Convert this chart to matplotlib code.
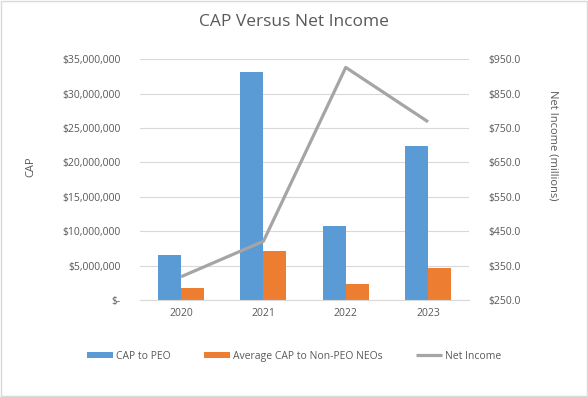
import numpy as np
import matplotlib
matplotlib.use('Agg')
import matplotlib.pyplot as plt
from matplotlib.patches import Rectangle
from matplotlib.ticker import FuncFormatter, MultipleLocator, FixedLocator

plt.rcParams['font.family'] = ['Open Sans', 'DejaVu Sans']

years = ['2020', '2021', '2022', '2023']
cap_peo = [6600000, 33200000, 10750000, 22400000]
cap_neo = [1750000, 7100000, 2350000, 4650000]
net_income = [318.0, 421.0, 926.0, 768.0]

txt = '#595959'
blue = '#5B9BD5'
orange = '#ED7D31'
gray = '#A5A5A5'

fig = plt.figure(figsize=(5.88, 3.97), dpi=100)
fig.patches.append(Rectangle((0.002, 0.002), 0.996, 0.996, transform=fig.transFigure,
                             fill=False, edgecolor='#D9D9D9', lw=1))
ax = fig.add_axes([0.238, 0.244, 0.560, 0.607])
ax2 = ax.twinx()

x = np.arange(len(years))
w = 0.28
b1 = ax.bar(x - w / 2, cap_peo, w, color=blue, label='CAP to PEO', zorder=2)
b2 = ax.bar(x + w / 2, cap_neo, w, color=orange, label='Average CAP to Non-PEO NEOs', zorder=2)
l1, = ax2.plot(x, net_income, color=gray, lw=2.3, label='Net Income', solid_capstyle='butt')

ax.set_xlim(-0.5, 3.5)
ax.set_ylim(0, 35000000)
ax.yaxis.set_major_locator(MultipleLocator(5000000))
ax.yaxis.set_major_formatter(FuncFormatter(lambda v, p: '$-' if v == 0 else '${:,.0f}'.format(v)))
ax2.set_ylim(250, 950)
ax2.yaxis.set_major_locator(FixedLocator(np.arange(250, 951, 100)))
ax2.yaxis.set_major_formatter(FuncFormatter(lambda v, p: '${:,.1f}'.format(v)))
ax.set_xticks(x)
ax.set_xticklabels(years)

ax.grid(axis='y', color='#D9D9D9', lw=0.8, zorder=0)
ax.set_axisbelow(True)
for a in (ax, ax2):
    for s in a.spines.values():
        s.set_visible(False)
    a.tick_params(length=0, colors=txt, labelsize=7.5)
ax.spines['bottom'].set_visible(True)
ax.spines['bottom'].set_color('#D9D9D9')
ax.tick_params(axis='y', pad=14)
ax2.tick_params(axis='y', pad=14)
ax.tick_params(axis='x', pad=6)

fig.text(0.052, 0.58, 'CAP', rotation=90, color=txt, fontsize=8, ha='center', va='center')
fig.text(0.94, 0.635, 'Net Income (millions)', rotation=-90, color=txt, fontsize=8,
         ha='center', va='center')
fig.suptitle('CAP Versus Net Income', y=0.965, fontsize=12.5, color=txt)

fig.legend(handles=[b1, b2, l1], loc='center', bbox_to_anchor=(0.5, 0.103), ncol=3,
           frameon=False, fontsize=7.5, labelcolor=txt, columnspacing=3.2,
           handlelength=2.5, handleheight=0.55, handletextpad=0.3)

fig.savefig('out.png', dpi=100)
